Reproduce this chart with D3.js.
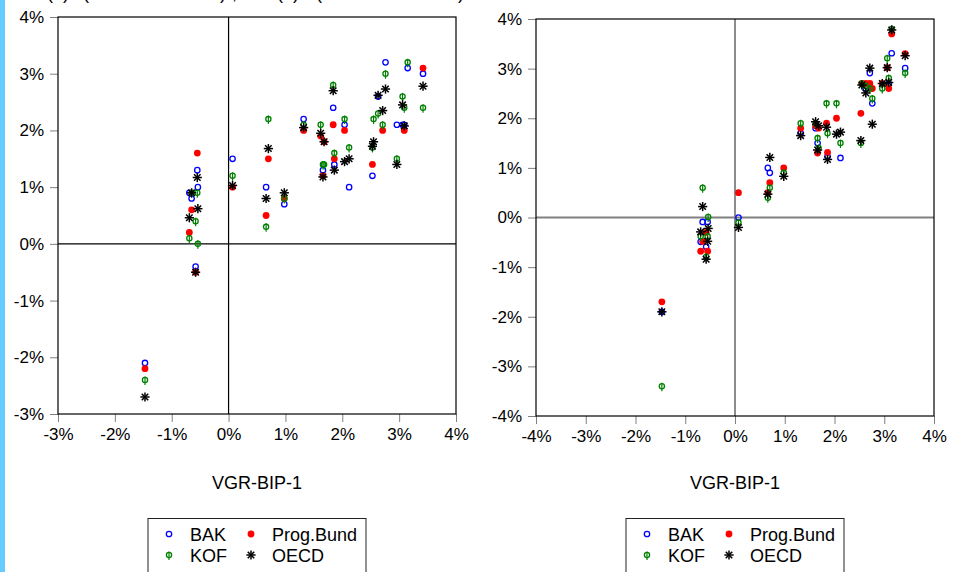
<!DOCTYPE html>
<html>
<head>
<meta charset="utf-8">
<script src="https://cdn.jsdelivr.net/npm/d3@7"></script>
<style>
  body { margin: 0; background: #fff; }
  svg { display: block; font-family: "Liberation Sans", Arial, sans-serif; }
</style>
</head>
<body>
<svg id="chart" width="958" height="572"></svg>
<script>
// actual growth (VGR-BIP-1), one entry per year
var growth = [-1.47, -0.69, -0.65, -0.58, -0.55, -0.54, 0.07, 0.66, 0.70, 0.98, 1.32, 1.62, 1.66, 1.68,
              1.84, 1.86, 2.04, 2.12, 2.53, 2.55, 2.63, 2.71, 2.76, 2.96, 3.06, 3.09, 3.15, 3.42];

// left panel forecasts
var bakA  = [-2.1, 0.9, 0.8, -0.4, 1.3, 1.0, 1.5, 1.0, null, 0.7, 2.2, null, 1.3, null,
             2.4, 1.4, 2.1, 1.0, 1.2, null, 2.6, null, 3.2, 2.1, 2.1, 2.1, 3.1, 3.0];
var progA = [-2.2, 0.2, 0.6, -0.5, 1.6, null, 1.0, 0.5, 1.5, 0.8, 2.0, 1.9, 1.2, 1.8,
             2.1, 1.5, 2.0, null, 1.4, null, null, 2.0, null, null, null, 2.0, null, 3.1];
var kofA  = [-2.4, 0.1, 0.9, 0.4, 0.9, 0.0, 1.2, 0.3, 2.2, 0.8, 2.1, 2.1, 1.4, 1.4,
             2.8, 1.6, 2.2, 1.7, 1.7, 2.2, 2.3, 2.1, 3.0, 1.5, 2.6, 2.4, 3.2, 2.4];
var oecdA = [-2.7, 0.46, 0.9, -0.5, 1.17, 0.62, 1.03, 0.8, 1.68, 0.9, 2.05, 1.95, 1.18, 1.8,
             2.7, 1.3, 1.45, 1.5, 1.72, 1.8, 2.62, 2.35, 2.73, 1.4, 2.45, 2.08, null, 2.78];

// right panel forecasts
var bakB  = [-1.9, -0.49, -0.09, -0.59, -0.09, null, 0.0, 1.0, 0.9, null, 1.7, 1.8, 1.5, null,
             null, 1.23, null, 1.2, null, null, 2.6, 2.91, 2.3, null, null, 2.7, 3.31, 3.01];
var progB = [-1.7, -0.68, -0.48, -0.3, -0.68, null, 0.5, 0.5, 0.7, 1.0, 1.8, 1.85, 1.3, 1.8,
             1.9, 1.31, 2.0, null, 2.1, 2.7, 2.7, 2.7, 2.6, 2.7, 3.02, 2.6, 3.7, 3.3];
var kofB  = [-3.4, -0.38, 0.6, -0.79, -0.38, 0.01, -0.1, 0.4, 0.6, 0.9, 1.9, 1.9, 1.6, 1.4,
             2.3, 1.7, 2.3, 1.5, 1.5, 2.7, 2.65, 2.6, 2.4, 2.6, 3.21, 2.81, 3.8, 2.91];
var oecdB = [-1.9, -0.29, 0.22, -0.84, -0.48, -0.22, -0.2, 0.47, 1.21, 0.83, 1.65, 1.93, 1.36, 1.85,
             1.82, 1.17, 1.68, 1.72, 1.55, 2.67, 2.51, 3.01, 1.88, 2.7, 3.02, 2.72, 3.78, 3.26];

var seriesNames = ["BAK", "Prog.Bund", "KOF", "OECD"];
var ticksA = [-3, -2, -1, 0, 1, 2, 3, 4];
var ticksB = [-4, -3, -2, -1, 0, 1, 2, 3, 4];
var axisTitle = "VGR-BIP-1";

var svg = d3.select("#chart");

// light blue strip on the left edge
svg.append("rect").attr("x", 0).attr("y", 0).attr("width", 5).attr("height", 572).attr("fill", "#66ccff");

// cut-off caption at the very top
var cap = svg.append("text").attr("y", -1).attr("font-size", 18).attr("fill", "#000");
cap.append("tspan").attr("x", 47).text("(a)");
cap.append("tspan").attr("x", 83).attr("textLength", 143).text("(Herbst zwei Jahre vorher)");
cap.append("tspan").attr("x", 232).text(",");
cap.append("tspan").attr("x", 244).text("und");
cap.append("tspan").attr("x", 277).text("(b)");
cap.append("tspan").attr("x", 316).attr("textLength", 148).text("(Herbst ein Jahr vorher)");

function drawMarker(g, type, cx, cy) {
    if (type == "BAK") {
        g.append("circle").attr("cx", cx).attr("cy", cy).attr("r", 2.7)
            .attr("fill", "none").attr("stroke", "#0000ff").attr("stroke-width", 1.3);
    } else if (type == "Prog.Bund") {
        g.append("circle").attr("cx", cx).attr("cy", cy).attr("r", 3.4).attr("fill", "#ff0000");
    } else if (type == "KOF") {
        g.append("circle").attr("cx", cx).attr("cy", cy).attr("r", 2.6)
            .attr("fill", "none").attr("stroke", "#008000").attr("stroke-width", 1.3);
        g.append("line").attr("x1", cx).attr("x2", cx).attr("y1", cy - 3.5).attr("y2", cy + 5)
            .attr("stroke", "#008000").attr("stroke-width", 1.2);
    } else {
        [0, 45, 90, 135].forEach(function(a) {
            var rad = a * Math.PI / 180, dx = Math.cos(rad) * 4.6, dy = Math.sin(rad) * 4.6;
            g.append("line").attr("x1", cx - dx).attr("x2", cx + dx).attr("y1", cy - dy).attr("y2", cy + dy)
                .attr("stroke", "#000").attr("stroke-width", 1.5);
        });
    }
}

function drawPanel(p) {
    var x = d3.scaleLinear().domain(p.domain).range([p.left, p.right]);
    var y = d3.scaleLinear().domain(p.domain2).range([p.bottom, p.top]);
    var g = svg.append("g");

    // axes (ticks outside the frame, gray)
    var yAxis = g.append("g").attr("transform", "translate(" + p.left + ",0)")
        .call(d3.axisLeft(y).tickValues(p.yticks).tickSize(8).tickPadding(6).tickFormat(function(d) { return d + "%"; }));
    var xAxis = g.append("g").attr("transform", "translate(0," + p.bottom + ")")
        .call(d3.axisBottom(x).tickValues(p.xticks).tickSize(8).tickPadding(6).tickFormat(function(d) { return d + "%"; }));
    [yAxis, xAxis].forEach(function(a) {
        a.select(".domain").remove();
        a.selectAll("line").attr("stroke", "#808080");
        a.selectAll("text").attr("font-size", 17).attr("fill", "#000").attr("font-family", "Liberation Sans, Arial, sans-serif");
    });

    // zero lines
    g.append("line").attr("x1", x(0)).attr("x2", x(0)).attr("y1", p.top).attr("y2", p.bottom)
        .attr("stroke", p.zeroColor).attr("stroke-width", p.zeroWidth);
    g.append("line").attr("x1", p.left).attr("x2", p.right).attr("y1", y(0)).attr("y2", y(0))
        .attr("stroke", p.zeroColor).attr("stroke-width", p.zeroWidth);

    // frame
    g.append("rect").attr("x", p.left).attr("y", p.top).attr("width", p.right - p.left).attr("height", p.bottom - p.top)
        .attr("fill", "none").attr("stroke", "#000").attr("stroke-width", 1.2);

    // points, drawn series by series
    p.series.forEach(function(vals, s) {
        var sg = g.append("g");
        vals.forEach(function(v, i) {
            if (v === null) return;
            drawMarker(sg, seriesNames[s], x(growth[i]), y(v));
        });
    });

    // axis title
    g.append("text").attr("x", (p.left + p.right) / 2).attr("y", 489).attr("text-anchor", "middle")
        .attr("font-size", 18).text(axisTitle);

    // legend
    var lg = svg.append("g");
    lg.append("rect").attr("x", p.legendX).attr("y", 518.5).attr("width", 218).attr("height", 70)
        .attr("fill", "#fff").attr("stroke", "#222").attr("stroke-width", 1);
    var cols = [p.legendX + 21, p.legendX + 103];
    var rows = [534, 555];
    seriesNames.forEach(function(name, k) {
        var cx = cols[k % 2], cy = rows[Math.floor(k / 2)];
        drawMarker(lg, name, cx, cy);
        lg.append("text").attr("x", cx + 21).attr("y", cy + 7).attr("font-size", 18).text(name);
    });
}

drawPanel({
    left: 58, right: 456, top: 17, bottom: 414,
    domain: [-3, 4], domain2: [-3, 4], xticks: ticksA, yticks: ticksA,
    zeroColor: "#000", zeroWidth: 1.2,
    series: [bakA, progA, kofA, oecdA],
    legendX: 148
});

drawPanel({
    left: 536, right: 934, top: 19, bottom: 416,
    domain: [-4, 4], domain2: [-4, 4], xticks: ticksB, yticks: ticksB,
    zeroColor: "#808080", zeroWidth: 1.8,
    series: [bakB, progB, kofB, oecdB],
    legendX: 626
});
</script>
</body>
</html>
